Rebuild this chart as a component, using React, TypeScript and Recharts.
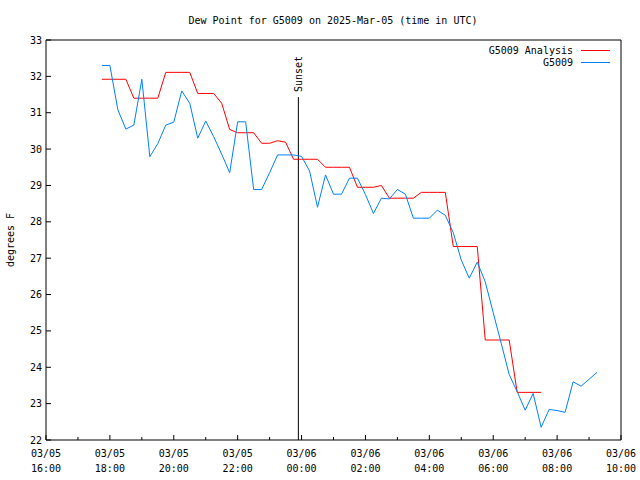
import { LineChart, Line, XAxis, YAxis, ReferenceLine } from "recharts"

// minutes after 03/05 16:00 UTC
const analysisMinutes = [
  105, 120, 135, 150, 165, 180, 195, 210, 225, 240, 255, 270, 285, 300, 315, 330, 345, 360, 375, 390,
  405, 420, 435, 450, 465, 480, 495, 510, 525, 540, 555, 570, 585, 600, 615, 630, 645, 660, 675, 690,
  705, 720, 735, 750, 765, 780, 795, 810, 825, 840, 855, 870, 885, 900, 915, 930,
]
const analysisValues = [
  31.92, 31.92, 31.92, 31.92, 31.4, 31.4, 31.4, 31.4, 32.11, 32.11, 32.11, 32.11, 31.53, 31.53, 31.53, 31.26,
  30.54, 30.45, 30.45, 30.45, 30.16, 30.16, 30.23, 30.19, 29.72, 29.72, 29.72, 29.72, 29.5, 29.5, 29.5, 29.5,
  28.95, 28.95, 28.95, 29.0, 28.65, 28.65, 28.65, 28.65, 28.81, 28.81, 28.81, 28.81, 27.32, 27.32, 27.32, 27.32,
  24.75, 24.75, 24.75, 24.75, 23.31, 23.31, 23.31, 23.31,
]

const stationMinutes = [
  105, 120, 135, 150, 165, 180, 195, 210, 225, 240, 255, 270, 285, 300, 315, 330, 345, 360, 375, 390,
  405, 420, 435, 450, 465, 480, 495, 510, 525, 540, 555, 570, 585, 600, 615, 630, 645, 660, 675, 690,
  705, 720, 735, 750, 765, 780, 795, 810, 825, 840, 855, 870, 885, 900, 915, 930, 945, 960, 975, 990,
  1005, 1020, 1035,
]
const stationValues = [
  32.3, 32.3, 31.08, 30.55, 30.66, 31.92, 29.79, 30.15, 30.66, 30.74, 31.6, 31.26, 30.3, 30.77, 30.34, 29.86,
  29.35, 30.75, 30.75, 28.89, 28.89, 29.35, 29.84, 29.84, 29.84, 29.8, 29.4, 28.4, 29.29, 28.76, 28.76, 29.2,
  29.2, 28.75, 28.23, 28.65, 28.63, 28.89, 28.76, 28.1, 28.1, 28.1, 28.32, 28.18, 27.7, 26.95, 26.45, 26.89,
  26.35, 25.5, 24.66, 23.8, 23.33, 22.82, 23.28, 22.35, 22.84, 22.81, 22.76, 23.6, 23.48, 23.67, 23.86,
]

const xTicks = [0, 60, 120, 180, 240, 300, 360, 420, 480, 540, 600, 660, 720, 780, 840, 900, 960, 1020, 1080]
const xTickDates = ["03/05", "03/05", "03/05", "03/05", "03/06", "03/06", "03/06", "03/06", "03/06", "03/06"]
const xTickTimes = ["16:00", "18:00", "20:00", "22:00", "00:00", "02:00", "04:00", "06:00", "08:00", "10:00"]
const yTicks = [22, 23, 24, 25, 26, 27, 28, 29, 30, 31, 32, 33]

const sunsetMinute = 474

const analysisData = analysisMinutes.map((m, i) => ({ m, v: analysisValues[i] }))
const stationData = stationMinutes.map((m, i) => ({ m, v: stationValues[i] }))

const font = "'DejaVu Sans Mono', monospace"
const RED = "#ff0000"
const BLUE = "#0080ff"

const legendItems = [
  { name: "G5009 Analysis", color: RED },
  { name: "G5009", color: BLUE },
]

const BottomTick = ({ x, y, payload }: any) => {
  const major = payload.value % 120 === 0
  const idx = payload.value / 120
  return (
    <g>
      <line x1={x} x2={x} y1={y} y2={y - (major ? 5 : 3)} stroke="#000" />
      {major && (
        <text x={x} y={y + 16.5} textAnchor="middle" fontSize={10} fontFamily={font} fill="#000">
          <tspan x={x}>{xTickDates[idx]}</tspan>
          <tspan x={x} dy={15}>{xTickTimes[idx]}</tspan>
        </text>
      )}
    </g>
  )
}

const TopTick = ({ x, y, payload }: any) => {
  const major = payload.value % 120 === 0
  return <line x1={x} x2={x} y1={y} y2={y + (major ? 5 : 3)} stroke="#000" />
}

const LeftTick = ({ x, y, payload }: any) => (
  <g>
    <line x1={x} x2={x + 5} y1={y} y2={y} stroke="#000" />
    <text x={x - 4} y={y + 3.5} textAnchor="end" fontSize={10} fontFamily={font} fill="#000">
      {payload.value}
    </text>
  </g>
)

const RightTick = ({ x, y }: any) => <line x1={x} x2={x - 5} y1={y} y2={y} stroke="#000" />

const SunsetLabel = ({ viewBox }: any) => {
  const lx = viewBox.x + 4
  const ly = viewBox.y - 5
  return (
    <text x={lx} y={ly} transform={`rotate(-90 ${lx} ${ly})`} fontSize={10} fontFamily={font} fill="#000">
      Sunset
    </text>
  )
}

export default function App() {
  return (
    <div style={{ position: "absolute", left: 0, top: 0, width: 640, height: 480, background: "#fff" }}>
      <LineChart width={640} height={480} margin={{ top: 40, right: 19, bottom: 0, left: 0 }}>
        <text x={333} y={24} textAnchor="middle" fontSize={10} fontFamily={font} fill="#000">
          Dew Point for G5009 on 2025-Mar-05 (time in UTC)
        </text>
        <text x={14} y={240} transform="rotate(-90 14 240)" textAnchor="middle" fontSize={10} fontFamily={font} fill="#000">
          degrees F
        </text>
        {/* key, top right inside the frame */}
        {legendItems.map((item, i) => (
          <g key={item.name}>
            <text x={573} y={54 + i * 12} textAnchor="end" fontSize={10} fontFamily={font} fill="#000">
              {item.name}
            </text>
            <line x1={581} x2={610} y1={50.5 + i * 12} y2={50.5 + i * 12} stroke={item.color} strokeWidth={1} />
          </g>
        ))}
        <XAxis
          xAxisId="b"
          dataKey="m"
          type="number"
          domain={[0, 1080]}
          ticks={xTicks}
          interval={0}
          height={40}
          tickSize={0}
          tickMargin={0}
          tickLine={false}
          tick={<BottomTick />}
          axisLine={{ stroke: "#000" }}
          allowDataOverflow
        />
        <XAxis
          xAxisId="t"
          orientation="top"
          dataKey="m"
          type="number"
          domain={[0, 1080]}
          ticks={xTicks}
          interval={0}
          height={0}
          tickSize={0}
          tickMargin={0}
          tickLine={false}
          tick={<TopTick />}
          axisLine={false}
        />
        <YAxis
          yAxisId="l"
          type="number"
          domain={[22, 33]}
          ticks={yTicks}
          interval={0}
          width={46}
          tickSize={0}
          tickMargin={0}
          tickLine={false}
          tick={<LeftTick />}
          axisLine={{ stroke: "#000" }}
          allowDataOverflow
        />
        <YAxis
          yAxisId="r"
          orientation="right"
          type="number"
          domain={[22, 33]}
          ticks={yTicks}
          interval={0}
          width={0}
          tickSize={0}
          tickMargin={0}
          tickLine={false}
          tick={<RightTick />}
          axisLine={false}
        />
        {/* frame: top and right edges */}
        <ReferenceLine xAxisId="b" yAxisId="l" y={33} stroke="#000" strokeWidth={1} />
        <ReferenceLine xAxisId="b" yAxisId="l" x={1080} stroke="#000" strokeWidth={1} />
        <ReferenceLine
          xAxisId="b"
          yAxisId="l"
          segment={[
            { x: sunsetMinute, y: 31.43 },
            { x: sunsetMinute, y: 22 },
          ]}
          stroke="#000"
          strokeWidth={1}
          label={<SunsetLabel />}
        />
        <Line
          xAxisId="b"
          yAxisId="l"
          data={analysisData}
          dataKey="v"
          name="G5009 Analysis"
          type="linear"
          stroke={RED}
          strokeWidth={1}
          dot={false}
          isAnimationActive={false}
        />
        <Line
          xAxisId="b"
          yAxisId="l"
          data={stationData}
          dataKey="v"
          name="G5009"
          type="linear"
          stroke={BLUE}
          strokeWidth={1}
          dot={false}
          isAnimationActive={false}
        />
      </LineChart>
    </div>
  )
}
